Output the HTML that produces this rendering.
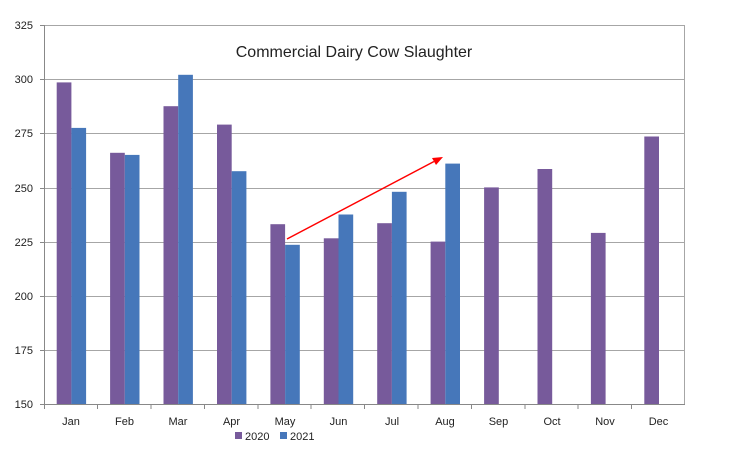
<!DOCTYPE html>
<html><head><style>body{margin:0;background:#fff}svg{display:block}text{font-family:"Liberation Sans",sans-serif;fill:#222}</style></head><body>
<svg width="734" height="452" xmlns="http://www.w3.org/2000/svg">
<g stroke="#a6a6a6" stroke-width="1">
<line x1="44" y1="25.5" x2="685" y2="25.5"/><line x1="44" y1="79.5" x2="685" y2="79.5"/><line x1="44" y1="133.5" x2="685" y2="133.5"/><line x1="44" y1="188.5" x2="685" y2="188.5"/><line x1="44" y1="242.5" x2="685" y2="242.5"/><line x1="44" y1="296.5" x2="685" y2="296.5"/><line x1="44" y1="350.5" x2="685" y2="350.5"/>
<line x1="684.5" y1="25" x2="684.5" y2="404"/>
</g>
<g stroke="#888" stroke-width="1">
<line x1="44.5" y1="25" x2="44.5" y2="404"/><line x1="40" y1="404.5" x2="685" y2="404.5"/>
<line x1="40" y1="25.5" x2="44" y2="25.5"/><line x1="40" y1="79.5" x2="44" y2="79.5"/><line x1="40" y1="133.5" x2="44" y2="133.5"/><line x1="40" y1="188.5" x2="44" y2="188.5"/><line x1="40" y1="242.5" x2="44" y2="242.5"/><line x1="40" y1="296.5" x2="44" y2="296.5"/><line x1="40" y1="350.5" x2="44" y2="350.5"/>
<line x1="97.5" y1="404" x2="97.5" y2="409"/><line x1="151" y1="404" x2="151" y2="409"/><line x1="204.5" y1="404" x2="204.5" y2="409"/><line x1="258" y1="404" x2="258" y2="409"/><line x1="311" y1="404" x2="311" y2="409"/><line x1="364.5" y1="404" x2="364.5" y2="409"/><line x1="418" y1="404" x2="418" y2="409"/><line x1="471.5" y1="404" x2="471.5" y2="409"/><line x1="525" y1="404" x2="525" y2="409"/><line x1="578" y1="404" x2="578" y2="409"/><line x1="631.5" y1="404" x2="631.5" y2="409"/><line x1="44.5" y1="404" x2="44.5" y2="409"/>
</g>
<g fill="#775A9B">
<rect x="56.7" y="82.4" width="14.7" height="321.6"/><rect x="110.1" y="152.8" width="14.7" height="251.2"/><rect x="163.5" y="106.2" width="14.7" height="297.8"/><rect x="217" y="124.6" width="14.7" height="279.4"/><rect x="270.4" y="224.2" width="14.7" height="179.8"/><rect x="323.8" y="238.3" width="14.7" height="165.7"/><rect x="377.2" y="223.2" width="14.7" height="180.8"/><rect x="430.6" y="241.6" width="14.7" height="162.4"/><rect x="484.1" y="187.4" width="14.7" height="216.6"/><rect x="537.5" y="169" width="14.7" height="235"/><rect x="590.9" y="232.9" width="14.7" height="171.1"/><rect x="644.3" y="136.5" width="14.7" height="267.5"/>
</g>
<g fill="#4677BA">
<rect x="71.4" y="127.9" width="14.7" height="276.1"/><rect x="124.8" y="154.9" width="14.7" height="249.1"/><rect x="178.2" y="74.8" width="14.7" height="329.2"/><rect x="231.7" y="171.2" width="14.7" height="232.8"/><rect x="285.1" y="244.8" width="14.7" height="159.2"/><rect x="338.5" y="214.5" width="14.7" height="189.5"/><rect x="391.9" y="191.8" width="14.7" height="212.2"/><rect x="445.3" y="163.6" width="14.7" height="240.4"/>
</g>
<line x1="287" y1="239" x2="434" y2="161.5" stroke="#ff0000" stroke-width="1.5"/>
<polygon points="443,157 432,158 436,165" fill="#ff0000"/>
<text x="354" y="57" font-size="16" text-anchor="middle">Commercial Dairy Cow Slaughter</text>
<g font-size="11" text-anchor="end">
<text x="33" y="29">325</text><text x="33" y="83">300</text><text x="33" y="137">275</text><text x="33" y="192">250</text><text x="33" y="246">225</text><text x="33" y="300">200</text><text x="33" y="354">175</text><text x="33" y="408">150</text>
</g>
<g font-size="11" text-anchor="middle">
<text x="71" y="425">Jan</text><text x="124.5" y="425">Feb</text><text x="178" y="425">Mar</text><text x="231.5" y="425">Apr</text><text x="285" y="425">May</text><text x="338.5" y="425">Jun</text><text x="392" y="425">Jul</text><text x="445" y="425">Aug</text><text x="498.5" y="425">Sep</text><text x="552" y="425">Oct</text><text x="605" y="425">Nov</text><text x="658.5" y="425">Dec</text>
</g>
<rect x="235" y="432" width="7" height="7" fill="#775A9B"/><text x="245" y="440" font-size="11">2020</text>
<rect x="280" y="432" width="7" height="7" fill="#4677BA"/><text x="290" y="440" font-size="11">2021</text>
</svg>
</body></html>
